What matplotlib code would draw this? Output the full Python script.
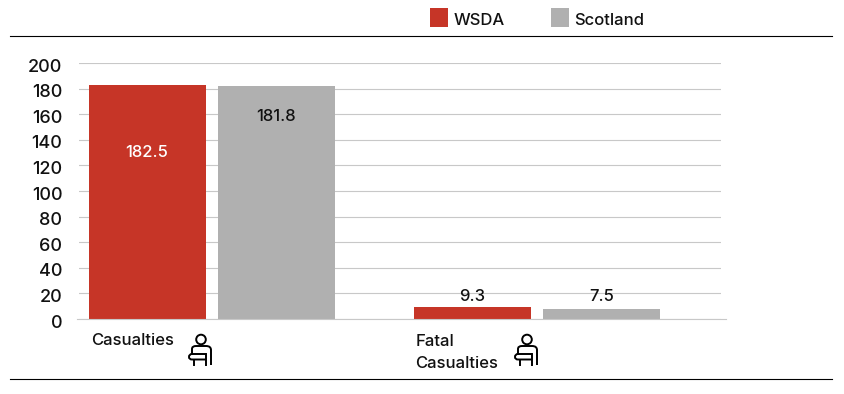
import matplotlib
matplotlib.use("Agg")
import matplotlib.pyplot as plt
from matplotlib.lines import Line2D
from matplotlib.patches import Circle, Rectangle
from matplotlib.path import Path
from matplotlib.patches import PathPatch
from matplotlib.transforms import ScaledTranslation

categories = ["Casualties", "Fatal\nCasualties"]
series_names = ["WSDA", "Scotland"]
wsda = [182.5, 9.3]
scotland = [181.8, 7.5]
y_ticks = [0, 20, 40, 60, 80, 100, 120, 140, 160, 180, 200]

RED = "#c63527"
GREY = "#b0b0b0"
GRID = "#c8c8c8"
INK = "#111111"
W, H = 844, 394

plt.rcParams["font.family"] = ["Inter", "DejaVu Sans"]
plt.rcParams["font.weight"] = "medium"

fig = plt.figure(figsize=(W / 100, H / 100), dpi=100, facecolor="white")

# axes box set in pixels, x runs 79..721, y 319..63
ax = fig.add_axes([79 / W, 1 - 319 / H, 642 / W, 256 / H])
ax.set_xlim(-0.408, 1.564)
ax.set_ylim(0, 200)
for s in ax.spines.values():
    s.set_visible(False)
ax.set_axisbelow(True)
ax.grid(True, axis="y", color=GRID, lw=0.8)
ax.set_yticks(y_ticks)
ax.set_xticks([])
ax.tick_params(axis="y", length=0, pad=12, labelsize=13, labelcolor=INK)
# tick text sits about 2px under its gridline
nudge = ScaledTranslation(0, -2 / 100, fig.dpi_scale_trans)
for t in ax.get_yticklabels():
    t.set_transform(t.get_transform() + nudge)

bar_w = 0.359
off = 0.198
xs = range(len(categories))
ax.bar([x - off for x in xs], wsda, bar_w, color=RED, zorder=3)
ax.bar([x + off for x in xs], scotland, bar_w, color=GREY, zorder=3)

# value labels, offsets in points from the bar top
label_style = dict(textcoords="offset points", ha="center", va="center",
                   fontsize=12, zorder=4)
ax.annotate(f"{wsda[0]}", (0 - off, wsda[0]), xytext=(-0.5, -48), color="white", **label_style)
ax.annotate(f"{scotland[0]}", (0 + off, scotland[0]), xytext=(-0.5, -22), color=INK, **label_style)
ax.annotate(f"{wsda[1]}", (1 - off, wsda[1]), xytext=(-0.5, 7.5), color=INK, **label_style)
ax.annotate(f"{scotland[1]}", (1 + off, scotland[1]), xytext=(0, 9.5), color=INK, **label_style)

# overlay in pixel coordinates for rules, legend, category text and icons
ov = fig.add_axes([0, 0, 1, 1], facecolor="none")
ov.set_xlim(0, W)
ov.set_ylim(H, 0)
ov.axis("off")

ov.add_line(Line2D([77, 726], [319, 319], color=GRID, lw=0.8))
ov.add_line(Line2D([10, 832], [36, 36], color="black", lw=0.8))
ov.add_line(Line2D([10, 832], [379, 379], color="black", lw=0.8))

for lx, name, col in zip([430, 551], series_names, [RED, GREY]):
    ov.add_patch(Rectangle((lx, 8), 18, 19, color=col, lw=0))
    ov.text(lx + 23.5, 20.5, name, fontsize=12, color=INK, va="center", ha="left")


def person(x0):
    # outline icon, drawn from the left edge x0
    kw = dict(fc="none", ec="black", lw=1.4)
    ov.add_patch(Circle((x0 + 13, 339.5), 4.8, **kw))
    body = Path([(x0 + 4, 355), (x0 + 4, 349), (x0 + 4, 346), (x0 + 8, 346),
                 (x0 + 18, 346), (x0 + 23, 346), (x0 + 23, 350), (x0 + 23, 365)],
                [Path.MOVETO, Path.LINETO, Path.CURVE3, Path.CURVE3,
                 Path.LINETO, Path.CURVE3, Path.CURVE3, Path.LINETO])
    ov.add_patch(PathPatch(body, **kw))
    arm = Path([(x0 + 18, 354), (x0 + 4, 354), (x0 + 1, 354), (x0 + 1, 357),
                (x0 + 1, 359.5), (x0 + 4, 359.5), (x0 + 18, 359.5)],
               [Path.MOVETO, Path.LINETO, Path.CURVE3, Path.CURVE3,
                Path.CURVE3, Path.CURVE3, Path.LINETO])
    ov.add_patch(PathPatch(arm, **kw))
    ov.add_line(Line2D([x0 + 6, x0 + 6], [359.5, 365], color="black", lw=1.4))
    ov.add_line(Line2D([x0 + 18, x0 + 18], [354, 365], color="black", lw=1.4))


ov.text(91.5, 340.5, categories[0], fontsize=12, color=INK, va="center", ha="left")
ov.text(415.5, 352.5, categories[1], fontsize=12, color=INK, va="center", ha="left", linespacing=1.6)
person(188)
person(514)

fig.savefig("out.png", dpi=100)
